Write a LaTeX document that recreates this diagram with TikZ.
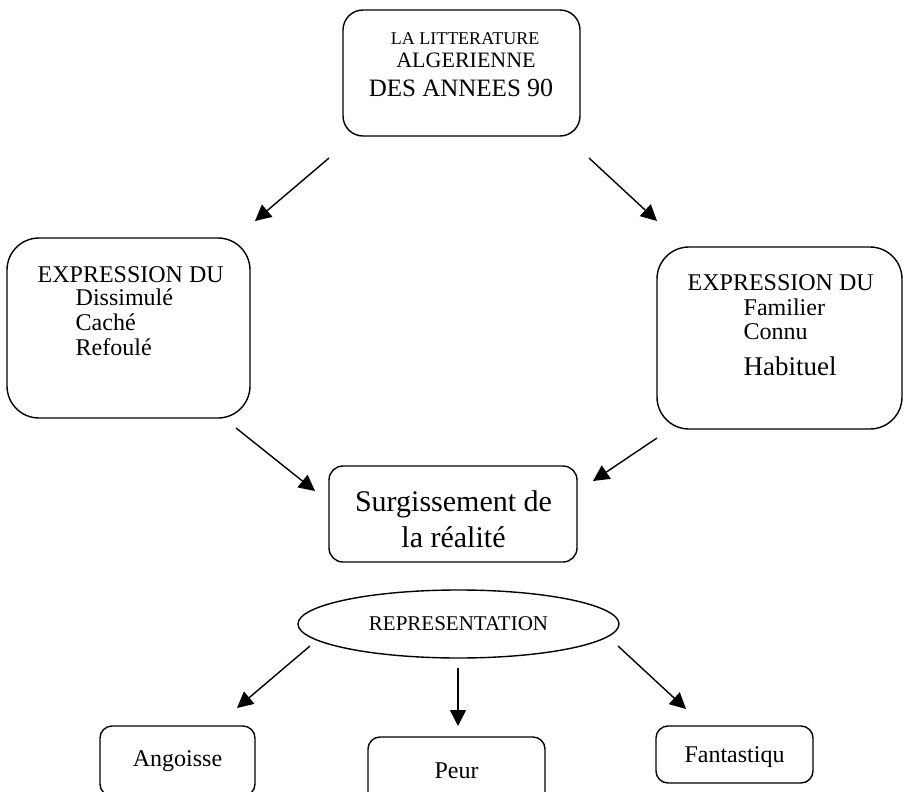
\documentclass[tikz,border=0pt]{standalone}
\usepackage{fontspec}
\setmainfont{Liberation Serif}
\usetikzlibrary{arrows.meta,shapes.geometric}
\def\boxnode{\node[draw,inner sep=0pt]}
\def\txtnode{\node[inner sep=0pt,anchor=base west,font=\fontsize{12}{14}\selectfont]}

\begin{document}
\begin{tikzpicture}[x=0.5pt,y=-0.5pt,line width=0.7pt,>={Triangle[length=8pt,width=8pt]}]
\useasboundingbox (0,0) rectangle (905,792);
\clip (0,0) rectangle (905,792);
% boxes
\boxnode[rounded corners=10pt,minimum width=118.5pt,minimum height=63pt] (litt) at (461.5,73) {};
\boxnode[rounded corners=16pt,minimum width=121.5pt,minimum height=90pt] (cache) at (128.5,328) {};
\boxnode[rounded corners=16pt,minimum width=122.5pt,minimum height=91pt] (connu) at (779.5,338) {};
\boxnode[rounded corners=7pt,minimum width=124pt,minimum height=48pt] (real) at (453,514) {};
\boxnode[ellipse,minimum width=160.5pt,minimum height=34pt,
  font=\fontsize{10.5}{12}\selectfont] (repr) at (458.5,624) {REPRESENTATION};
\boxnode[rounded corners=6pt,minimum width=77.5pt,minimum height=35pt,
  font=\fontsize{12}{14}\selectfont] (ang) at (177.5,761) {Angoisse};
\boxnode[rounded corners=6pt,minimum width=88.5pt,minimum height=34pt,
  font=\fontsize{12}{14}\selectfont] (peur) at (456.5,771) {Peur};
\boxnode[rounded corners=6pt,minimum width=78.5pt,minimum height=28.5pt,text depth=0pt,
  font=\fontsize{12}{14}\selectfont] (fant) at (734.5,754.5) {Fantastiqu};
% texts
\node[inner sep=0pt,anchor=base,font=\fontsize{9}{10}\selectfont] (t1) at (465,45) {LA LITTERATURE};
\node[inner sep=0pt,anchor=base,font=\fontsize{11}{12}\selectfont] (t2) at (466,68) {ALGERIENNE};
\node[inner sep=0pt,anchor=base,font=\fontsize{12.5}{13}\selectfont] (t3) at (461,97) {DES ANNEES {\fontsize{13}{13}\selectfont 90}};
\txtnode (l1) at (37,282) {EXPRESSION DU};
\txtnode (l2) at (75,305) {Dissimulé};
\txtnode (l3) at (75,330) {Caché};
\txtnode (l4) at (75,355) {Refoulé};
\txtnode (r1) at (687,290) {EXPRESSION DU};
\txtnode (r2) at (743,315) {Familier};
\txtnode (r3) at (743,339) {Connu};
\txtnode[font=\fontsize{13.5}{15}\selectfont] (r4) at (743,375) {Habituel};
\node[inner sep=0pt,anchor=base,font=\fontsize{15}{18}\selectfont] (s1) at (453.5,511) {Surgissement de};
\node[inner sep=0pt,anchor=base,font=\fontsize{15}{18}\selectfont] (s2) at (453.5,547) {la réalité};
% arrow ends
\coordinate (a1) at (329,158);
\coordinate (b1) at (255,221);
\coordinate (a2) at (589,158);
\coordinate (b2) at (657,221);
\coordinate (a3) at (236,428);
\coordinate (b3) at (315,491);
\coordinate (a4) at (657,438);
\coordinate (b4) at (593,481);
\coordinate (a5) at (310,646);
\coordinate (b5) at (237,708);
\coordinate (a6) at (458,668);
\coordinate (b6) at (458,726);
\coordinate (a7) at (618,646);
\coordinate (b7) at (686,709);
\draw[->] (a1) -- (b1);
\draw[->] (a2) -- (b2);
\draw[->] (a3) -- (b3);
\draw[->] (a4) -- (b4);
\draw[->] (a5) -- (b5);
\draw[->] (a6) -- (b6);
\draw[->] (a7) -- (b7);
\end{tikzpicture}
\end{document}
